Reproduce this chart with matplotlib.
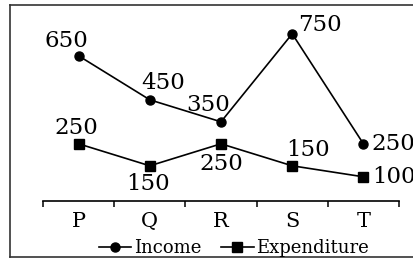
import matplotlib
matplotlib.use('Agg')
import matplotlib.pyplot as plt
from matplotlib.lines import Line2D

categories = ['P', 'Q', 'R', 'S', 'T']
income = [650, 450, 350, 750, 250]
expenditure = [250, 150, 250, 150, 100]

# label offsets in points (dx, dy, ha)
income_offsets = [(-8.5, 10.5, 'center'), (9.5, 12, 'center'), (-9.5, 12, 'center'),
                  (20, 6.5, 'center'), (5.5, 0, 'left')]
exp_offsets = [(-2, 11.5, 'center'), (-1, -13, 'center'), (0, -14.5, 'center'),
               (11.5, 11.5, 'center'), (6, 0, 'left')]

plt.rcParams['font.family'] = ['DejaVu Serif']

W, H = 414, 261
fig = plt.figure(figsize=(W / 100, H / 100), dpi=100)
ax = fig.add_axes([43 / W, 60 / H, (399 - 43) / W, (201 - 5) / H])

x = list(range(len(categories)))
ax.plot(x, income, color='black', lw=1.2, marker='o', markersize=6.5, label='Income')
ax.plot(x, expenditure, color='black', lw=1.2, marker='s', markersize=6.5, label='Expenditure')

for xi, v, (dx, dy, ha) in zip(x, income, income_offsets):
    ax.annotate(str(v), (xi, v), xytext=(dx, dy), textcoords='offset points',
                ha=ha, va='center', fontsize=16.5)
for xi, v, (dx, dy, ha) in zip(x, expenditure, exp_offsets):
    ax.annotate(str(v), (xi, v), xytext=(dx, dy), textcoords='offset points',
                ha=ha, va='center', fontsize=16.5)

ax.set_xlim(-0.5, len(categories) - 0.5)
ax.set_ylim(-10, 881)
ax.set_xticks(x)
ax.set_xticklabels(categories, fontsize=15)
ax.set_xticks([i - 0.5 for i in range(len(categories) + 1)], minor=True)
ax.tick_params(axis='x', which='major', length=0, pad=8)
ax.tick_params(axis='x', which='minor', length=4.5, width=1.1, direction='out')
ax.set_yticks([])
for s in ['left', 'right', 'top']:
    ax.spines[s].set_visible(False)
ax.spines['bottom'].set_linewidth(1.2)
ax.patch.set_alpha(0)

fig.legend(loc='center', bbox_to_anchor=(234 / W, 1 - 248 / H), ncol=2, frameon=False,
           fontsize=13, handlelength=1.8, handletextpad=0.15, columnspacing=1.1,
           borderaxespad=0, borderpad=0)

# outer frame (left, top, bottom)
lw = 1.2
fig.add_artist(Line2D([10 / W, 10 / W], [1 - 5 / H, 1 - 257 / H], color='#333333', lw=lw))
fig.add_artist(Line2D([10 / W, 1.0], [1 - 5 / H, 1 - 5 / H], color='#333333', lw=lw))
fig.add_artist(Line2D([10 / W, 1.0], [1 - 257 / H, 1 - 257 / H], color='#333333', lw=lw))

fig.savefig('out.png', dpi=100)
